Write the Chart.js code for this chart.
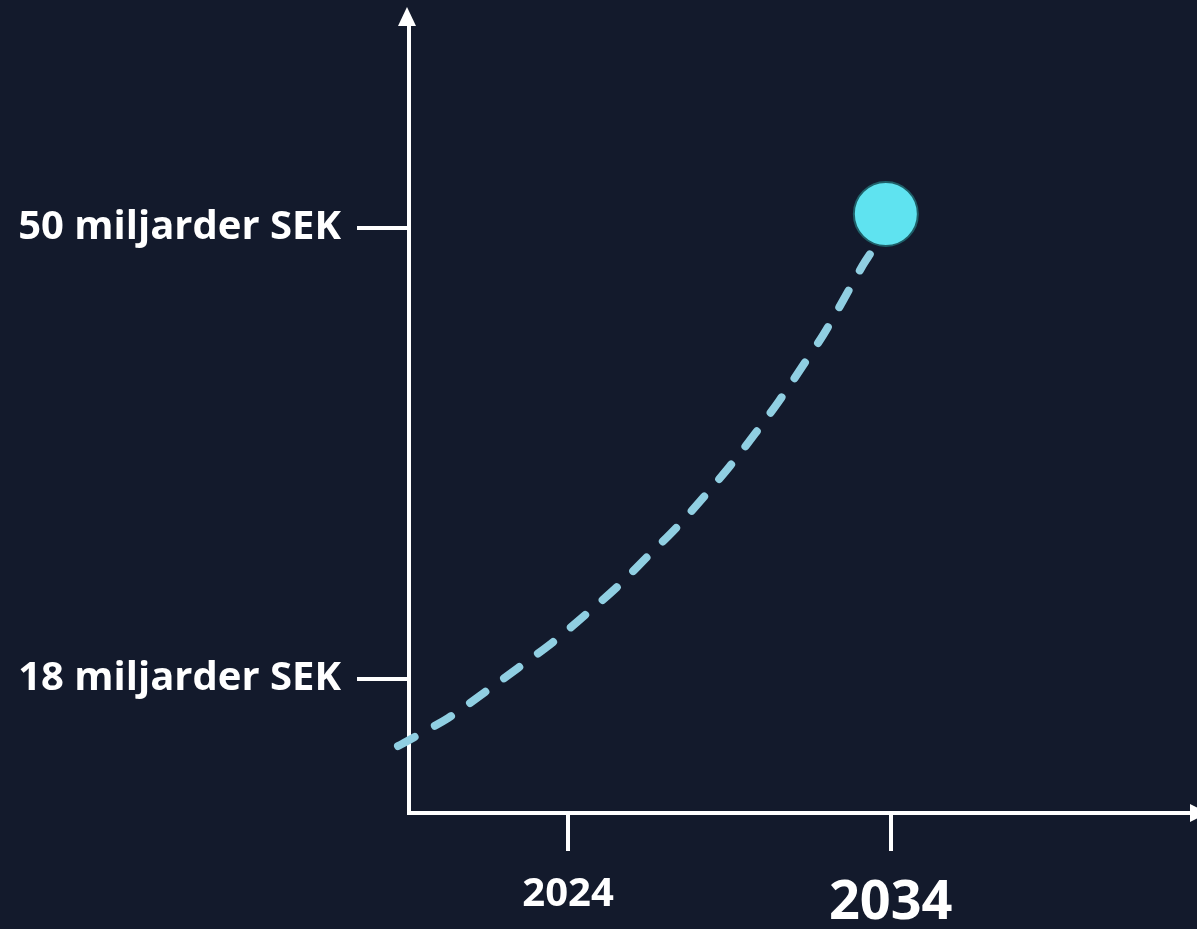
<!DOCTYPE html>
<html>
<head>
<meta charset="utf-8">
<script src="https://cdn.jsdelivr.net/npm/chart.js@4/dist/chart.umd.min.js"></script>
<style>
  html, body { margin: 0; padding: 0; background: #131a2c; }
  #wrap { width: 1197px; height: 929px; position: relative; }
  canvas { display: block; }
</style>
</head>
<body>
<div id="wrap"><canvas id="c" width="1197" height="929"></canvas></div>
<script>
// ---- data ----
const curveYears  = [2018.73, 2020.28, 2021.43, 2022.45, 2023.54, 2024.53, 2025.52, 2026.45, 2027.35, 2028.21, 2029.02, 2029.79, 2030.54, 2031.25, 2031.93, 2032.55, 2033.14, 2033.36];
const curveValues = [13.24, 15.23, 17.08, 18.78, 20.63, 22.54, 24.53, 26.66, 28.72, 30.92, 33.12, 35.39, 37.73, 40.14, 42.49, 44.97, 47.38, 48.16];
const markerYears  = [2033.85];
const markerValues = [51.0];
const yTickValues = [18, 50];
const yTickLabels = ['18 miljarder SEK', '50 miljarder SEK'];
const xTickValues = [2024, 2034];
const xTickLabels = ['2024', '2034'];

const WHITE = '#ffffff';

const arrowPlugin = {
  id: 'arrows',
  afterDraw(chart) {
    const { ctx, chartArea } = chart;
    ctx.save();
    ctx.fillStyle = WHITE;
    const xl = chart.scales.y.right;
    ctx.beginPath();
    ctx.moveTo(xl - 2, chartArea.top - 18);
    ctx.lineTo(xl - 11, chartArea.top + 1);
    ctx.lineTo(xl + 7, chartArea.top + 1);
    ctx.closePath();
    ctx.fill();
    const yb = chart.scales.x.top;
    ctx.beginPath();
    ctx.moveTo(chartArea.right + 16, yb);
    ctx.lineTo(chartArea.right - 2, yb - 9);
    ctx.lineTo(chartArea.right - 2, yb + 9);
    ctx.closePath();
    ctx.fill();
    ctx.restore();
  }
};

function zeroPad(scale) {
  scale.paddingTop = 0; scale.paddingBottom = 0;
  scale.paddingLeft = 0; scale.paddingRight = 0;
}

new Chart(document.getElementById('c'), {
  type: 'line',
  data: {
    datasets: [
      {
        data: curveYears.map((x, i) => ({ x, y: curveValues[i] })),
        borderColor: '#90cfe2',
        borderWidth: 8,
        borderDash: [19, 23],
        borderCapStyle: 'round',
        tension: 0.3,
        pointRadius: 0,
        fill: false,
        clip: false
      },
      {
        data: markerYears.map((x, i) => ({ x, y: markerValues[i] })),
        showLine: false,
        pointRadius: 32,
        pointHoverRadius: 32,
        pointBackgroundColor: '#5fe3f0',
        pointBorderColor: '#1f5f68',
        pointBorderWidth: 2,
        clip: false
      }
    ]
  },
  options: {
    responsive: false,
    animation: false,
    events: [],
    layout: { autoPadding: false, padding: { left: 0, top: 25, right: 5, bottom: 0 } },
    plugins: { legend: { display: false }, tooltip: { enabled: false } },
    scales: {
      x: {
        type: 'linear',
        min: 2019.07,
        max: 2043.34,
        afterFit(scale) { scale.height = 116; zeroPad(scale); },
        afterBuildTicks(scale) { scale.ticks = xTickValues.map(v => ({ value: v })); },
        border: { display: true, color: WHITE, width: 4 },
        grid: { drawOnChartArea: false, drawTicks: true, tickLength: 38, color: WHITE, lineWidth: 4 },
        ticks: {
          color: WHITE,
          padding: 20,
          maxRotation: 0,
          autoSkip: false,
          font: (ctx) => ({ family: 'Open Sans', weight: 'bold', size: ctx.tick && ctx.tick.value === 2034 ? 54 : 40 }),
          callback: (v) => { const i = xTickValues.indexOf(v); return i >= 0 ? xTickLabels[i] : ''; }
        }
      },
      y: {
        type: 'linear',
        min: 8.49,
        max: 64.41,
        afterFit(scale) { scale.width = 409; zeroPad(scale); },
        afterBuildTicks(scale) { scale.ticks = yTickValues.map(v => ({ value: v })); },
        border: { display: true, color: WHITE, width: 4 },
        grid: { drawOnChartArea: false, drawTicks: true, tickLength: 52, color: WHITE, lineWidth: 4 },
        ticks: {
          color: WHITE,
          padding: 16,
          autoSkip: false,
          font: { family: 'Open Sans', weight: 'bold', size: 40 },
          callback: (v) => { const i = yTickValues.indexOf(v); return i >= 0 ? yTickLabels[i] : ''; }
        }
      }
    }
  },
  plugins: [arrowPlugin]
});
</script>
</body>
</html>
